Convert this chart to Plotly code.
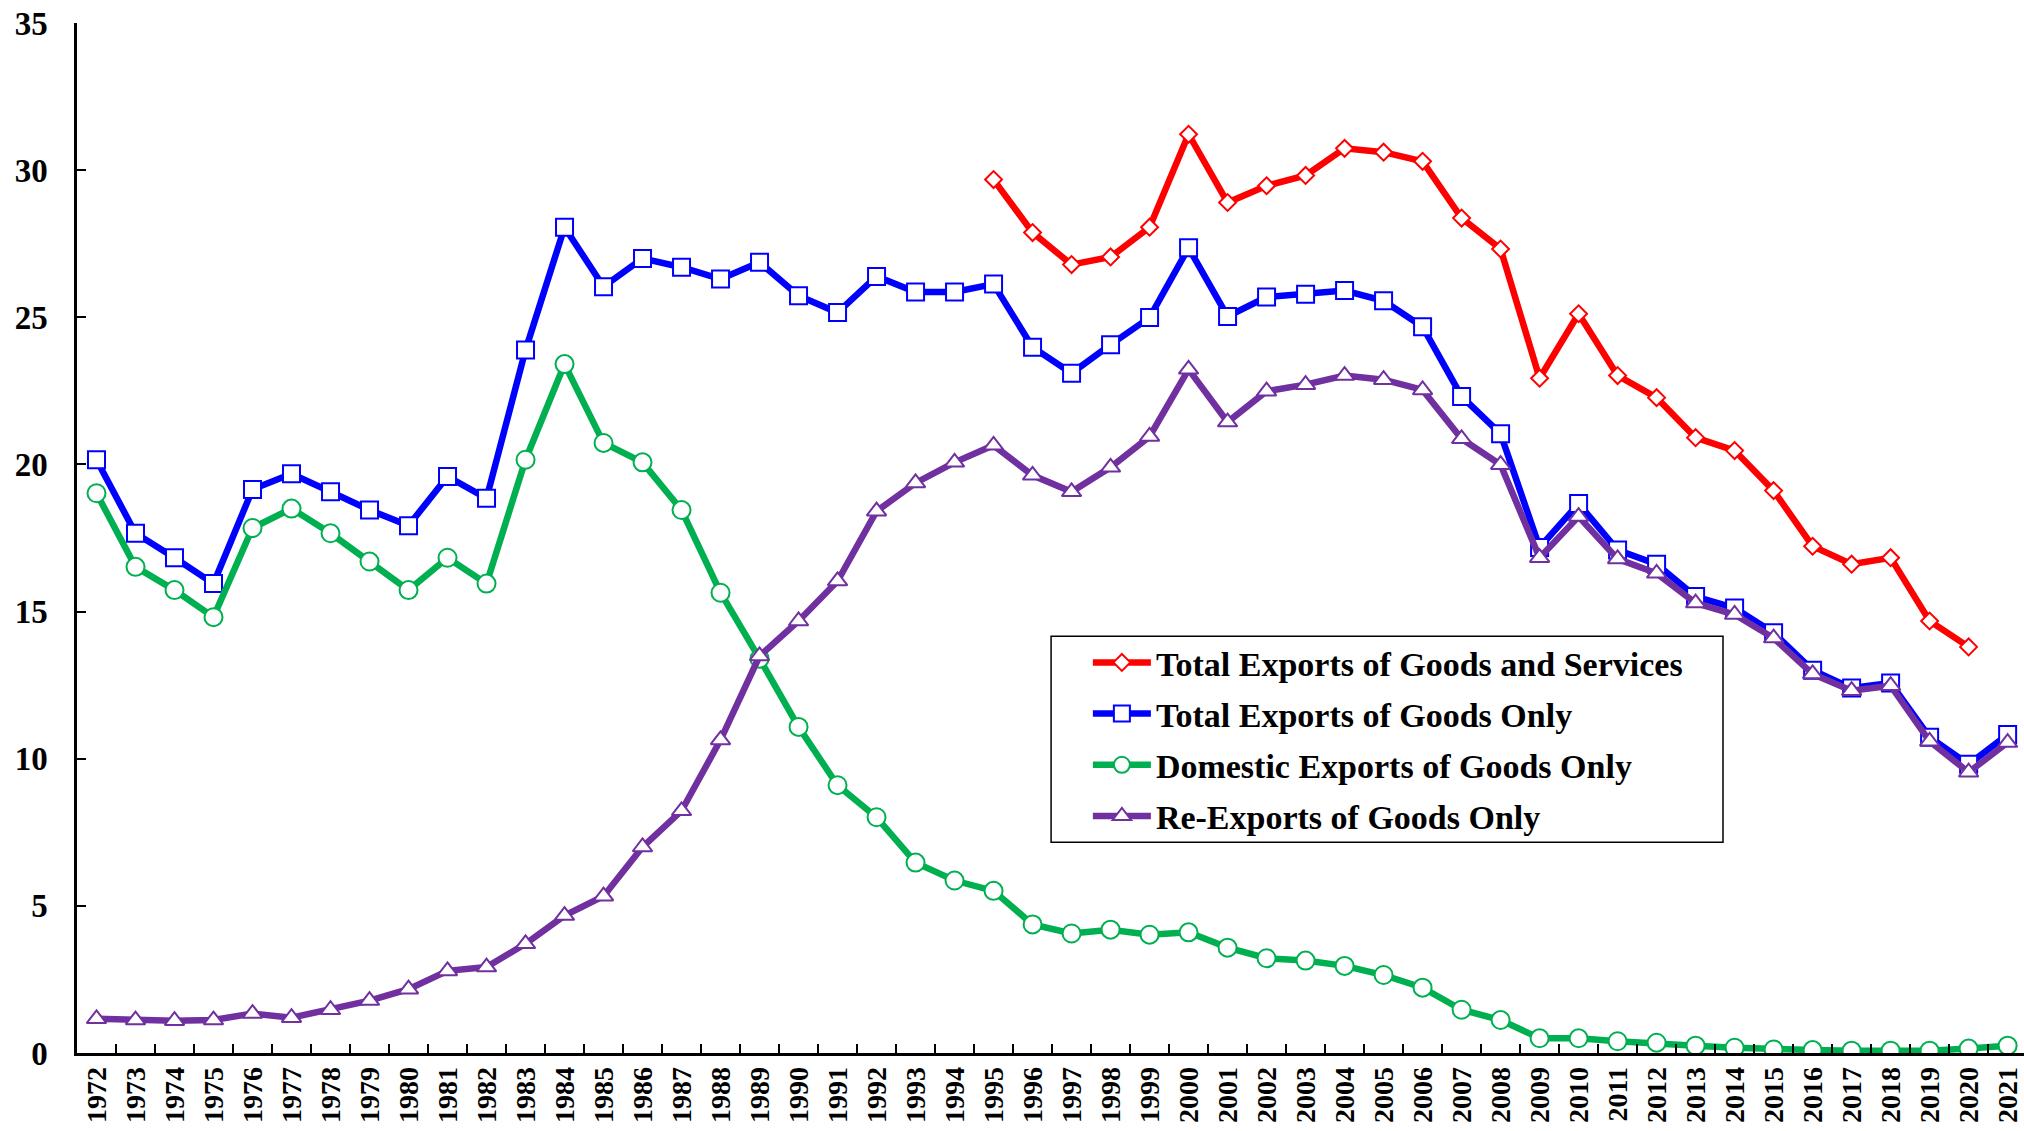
import plotly.graph_objects as go

years = [str(y) for y in range(1972, 2022)]

total_goods_services = [None]*23 + [
    29.68, 27.88, 26.79, 27.05, 28.06, 31.22, 28.90, 29.47, 29.82, 30.74,
    30.61, 30.30, 28.37, 27.32, 22.93, 25.12, 23.02, 22.27, 20.91, 20.47,
    19.11, 17.22, 16.61, 16.83, 14.68, 13.80, None]

total_goods = [
    20.16, 17.66, 16.83, 15.95, 19.15, 19.68, 19.07, 18.45, 17.92, 19.59,
    18.85, 23.89, 28.06, 26.04, 27.00, 26.70, 26.30, 26.87, 25.73, 25.16,
    26.39, 25.86, 25.86, 26.13, 23.98, 23.10, 24.07, 24.99, 27.36, 25.03,
    25.69, 25.78, 25.91, 25.56, 24.68, 22.31, 21.04, 17.18, 18.67, 17.09,
    16.61, 15.51, 15.12, 14.28, 13.01, 12.40, 12.57, 10.73, 9.81, 10.82]

domestic_goods = [
    19.02, 16.52, 15.73, 14.81, 17.84, 18.50, 17.66, 16.70, 15.73, 16.83,
    15.95, 20.16, 23.41, 20.73, 20.07, 18.45, 15.64, 13.40, 11.08, 9.10,
    8.01, 6.47, 5.86, 5.51, 4.37, 4.06, 4.19, 4.02, 4.10, 3.58,
    3.22, 3.14, 2.96, 2.65, 2.22, 1.47, 1.12, 0.50, 0.50, 0.40,
    0.35, 0.25, 0.18, 0.12, 0.10, 0.08, 0.08, 0.08, 0.15, 0.25]

re_exports = [
    1.16, 1.12, 1.10, 1.12, 1.34, 1.20, 1.47, 1.78, 2.17, 2.79,
    2.92, 3.71, 4.67, 5.33, 7.00, 8.23, 10.64, 13.49, 14.68, 16.04,
    18.41, 19.37, 20.07, 20.65, 19.63, 19.07, 19.90, 20.95, 23.23, 21.44,
    22.49, 22.71, 23.02, 22.88, 22.53, 20.87, 19.99, 16.83, 18.23, 16.79,
    16.30, 15.29, 14.90, 14.10, 12.88, 12.31, 12.48, 10.59, 9.54, 10.55]

y_ticks = [0, 5, 10, 15, 20, 25, 30, 35]

FONT = "Liberation Serif, Times New Roman, serif"

series = [
    ("Total Exports of Goods and Services", total_goods_services, "#FF0000", "diamond", 13),
    ("Total Exports of Goods Only", total_goods, "#0000FF", "square", 17),
    ("Domestic Exports of Goods Only", domestic_goods, "#00B050", "circle", 18),
    ("Re-Exports of Goods Only", re_exports, "#7030A0", "triangle-up", 17),
]

fig = go.Figure()
for i, (name, vals, col, sym, sz) in enumerate(series):
    fig.add_trace(go.Scatter(
        x=years, y=vals, name=name, mode="lines+markers",
        line=dict(color=col, width=6.5),
        marker=dict(symbol=sym, size=sz, color="white",
                    line=dict(color=col, width=2)),
        legendgroup=f"g{i}",
        connectgaps=False,
    ))

# legend frame (drawn as a paper-referenced rectangle)
fig.add_shape(
    type="rect", xref="paper", yref="paper",
    x0=0.5003, x1=0.8454, y0=0.2046, y1=0.4047,
    line=dict(color="black", width=1.5), fillcolor="white", layer="above",
)

fig.update_layout(
    width=2024, height=1131,
    paper_bgcolor="white", plot_bgcolor="white",
    margin=dict(l=77, r=0, t=23, b=78),
    font=dict(family=FONT, color="black", weight="bold"),
    showlegend=True,
    legend=dict(
        x=0.5192, y=0.407, xanchor="left", yanchor="top",
        borderwidth=0, bgcolor="rgba(0,0,0,0)",
        font=dict(family=FONT, size=34, color="black", weight="bold"),
        tracegroupgap=4,
        itemwidth=58,
    ),
    xaxis=dict(
        type="category", categoryorder="array", categoryarray=years,
        range=[-0.5, 49.42], automargin=False,
        showline=True, linecolor="black", linewidth=2.5,
        ticks="inside", ticklen=9, tickwidth=2, tickcolor="black",
        tickson="boundaries", tickangle=-90,
        ticklabelstandoff=0,
        tickfont=dict(family=FONT, size=28, color="black", weight="bold"),
        showgrid=False, zeroline=False,
    ),
    yaxis=dict(
        range=[0, 35], tickvals=y_ticks, automargin=False,
        showline=True, linecolor="black", linewidth=2.5,
        ticks="inside", ticklen=9, tickwidth=2, tickcolor="black",
        ticklabelstandoff=20,
        tickfont=dict(family=FONT, size=33, color="black", weight="bold"),
        showgrid=False, zeroline=False,
    ),
)

fig.write_html(
    "out.html",
    config={"displayModeBar": False},
    post_script="document.body.style.margin='0';document.body.style.overflow='hidden';",
)
